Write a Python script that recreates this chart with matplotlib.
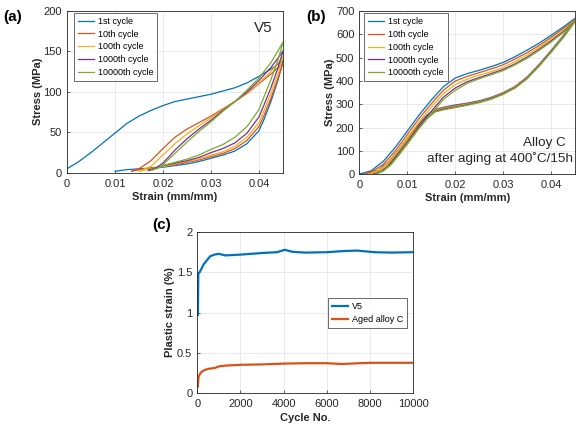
import numpy as np
import matplotlib
matplotlib.use("Agg")
import matplotlib.pyplot as plt
from matplotlib.ticker import FormatStrFormatter


# -----------------------------
# DATA
# -----------------------------

cycle_labels = ["1st cycle", "10th cycle", "100th cycle", "1000th cycle", "10000th cycle"]
cores = ["#0072BD", "#D95319", "#EDB120", "#7E2F8E", "#77AC30"]

# (a) V5 - loading branches (strain, stress)
v5_load_x = [
    [0, 0.0025, 0.005, 0.0075, 0.01, 0.0125, 0.015, 0.0175, 0.02, 0.0225, 0.025, 0.0275, 0.03, 0.0325, 0.035, 0.0375, 0.04, 0.0425, 0.045],
    [0.0135, 0.015, 0.0175, 0.02, 0.0225, 0.025, 0.0275, 0.03, 0.0325, 0.035, 0.0375, 0.04, 0.0425, 0.045],
    [0.015, 0.0175, 0.02, 0.0225, 0.025, 0.0275, 0.03, 0.0325, 0.035, 0.0375, 0.04, 0.0425, 0.045],
    [0.017, 0.0185, 0.02, 0.0225, 0.025, 0.0275, 0.03, 0.0325, 0.035, 0.0375, 0.04, 0.0425, 0.045],
    [0.0175, 0.019, 0.02, 0.0225, 0.025, 0.0275, 0.03, 0.0325, 0.035, 0.0375, 0.04, 0.0425, 0.045],
]
v5_load_y = [
    [5, 14, 25, 37, 49, 61, 70, 77, 83, 88, 91, 94, 97, 101, 105, 111, 119, 128, 138],
    [2, 5, 15, 30, 44, 54, 62, 70, 79, 88, 98, 110, 122, 135],
    [2, 8, 22, 36, 48, 58, 68, 78, 88, 99, 111, 125, 143],
    [3, 6, 12, 28, 42, 54, 65, 77, 88, 100, 114, 130, 150],
    [3, 6, 10, 24, 38, 51, 63, 76, 88, 102, 117, 136, 161],
]
# (a) V5 - unloading branches
v5_unl_x = [
    [0.045, 0.044, 0.0425, 0.041, 0.04, 0.0375, 0.035, 0.0325, 0.03, 0.0275, 0.025, 0.0225, 0.02, 0.0175, 0.015, 0.0125, 0.01],
    [0.045, 0.044, 0.0425, 0.041, 0.04, 0.0375, 0.035, 0.0325, 0.03, 0.0275, 0.025, 0.0225, 0.02, 0.0175, 0.015, 0.0135],
    [0.045, 0.044, 0.0425, 0.041, 0.04, 0.0375, 0.035, 0.0325, 0.03, 0.0275, 0.025, 0.0225, 0.02, 0.0175, 0.015],
    [0.045, 0.044, 0.0425, 0.041, 0.04, 0.0375, 0.035, 0.0325, 0.03, 0.0275, 0.025, 0.0225, 0.02, 0.0185, 0.017],
    [0.045, 0.044, 0.0425, 0.041, 0.04, 0.0375, 0.035, 0.0325, 0.03, 0.0275, 0.025, 0.0225, 0.02, 0.019, 0.0175],
]
v5_unl_y = [
    [138, 115, 88, 65, 52, 36, 27, 22, 18, 14, 11, 9, 7, 6, 5, 4, 2],
    [135, 117, 92, 70, 57, 40, 30, 24, 20, 16, 13, 10, 8, 6, 4, 2],
    [143, 123, 98, 76, 62, 44, 33, 26, 22, 17, 14, 11, 8, 5, 2],
    [150, 130, 105, 83, 69, 49, 37, 30, 25, 19, 15, 12, 9, 6, 3],
    [161, 140, 115, 93, 78, 57, 44, 35, 29, 22, 17, 13, 9, 6, 3],
]

# (b) Alloy C - loading branches
alc_load_x = [
    [0, 0.0025, 0.005, 0.0075, 0.01, 0.0125, 0.015, 0.0175, 0.02, 0.0225, 0.025, 0.0275, 0.03, 0.0325, 0.035, 0.0375, 0.04, 0.0425, 0.045],
    [0.001, 0.003, 0.005, 0.0075, 0.01, 0.0125, 0.015, 0.0175, 0.02, 0.0225, 0.025, 0.0275, 0.03, 0.0325, 0.035, 0.0375, 0.04, 0.0425, 0.045],
    [0.002, 0.0035, 0.005, 0.0075, 0.01, 0.0125, 0.015, 0.0175, 0.02, 0.0225, 0.025, 0.0275, 0.03, 0.0325, 0.035, 0.0375, 0.04, 0.0425, 0.045],
    [0.003, 0.0045, 0.006, 0.008, 0.01, 0.0125, 0.015, 0.0175, 0.02, 0.0225, 0.025, 0.0275, 0.03, 0.0325, 0.035, 0.0375, 0.04, 0.0425, 0.045],
    [0.0035, 0.005, 0.0065, 0.008, 0.01, 0.0125, 0.015, 0.0175, 0.02, 0.0225, 0.025, 0.0275, 0.03, 0.0325, 0.035, 0.0375, 0.04, 0.0425, 0.045],
]
alc_load_y = [
    [0, 15, 55, 115, 185, 255, 318, 375, 413, 432, 446, 462, 480, 505, 533, 563, 597, 632, 670],
    [0, 15, 42, 100, 170, 240, 302, 360, 400, 420, 436, 452, 470, 495, 522, 553, 588, 625, 665],
    [0, 12, 30, 85, 155, 225, 287, 345, 385, 408, 425, 440, 458, 483, 512, 545, 580, 618, 662],
    [0, 12, 35, 85, 138, 208, 270, 330, 370, 397, 415, 432, 450, 474, 503, 537, 573, 612, 658],
    [0, 14, 38, 75, 128, 198, 260, 320, 360, 390, 410, 427, 445, 470, 498, 532, 568, 608, 656],
]
# (b) Alloy C - unloading branches
alc_unl_x = [
    [0.045, 0.0425, 0.04, 0.0375, 0.035, 0.0325, 0.03, 0.0275, 0.025, 0.0225, 0.02, 0.0175, 0.0158, 0.014, 0.012, 0.01, 0.008, 0.006, 0.004, 0.002, 0],
    [0.045, 0.0425, 0.04, 0.0375, 0.035, 0.0325, 0.03, 0.0275, 0.025, 0.0225, 0.02, 0.0175, 0.0158, 0.014, 0.012, 0.01, 0.008, 0.006, 0.004, 0.002, 0.001],
    [0.045, 0.0425, 0.04, 0.0375, 0.035, 0.0325, 0.03, 0.0275, 0.025, 0.0225, 0.02, 0.0175, 0.0158, 0.014, 0.012, 0.01, 0.008, 0.006, 0.004, 0.002],
    [0.045, 0.0425, 0.04, 0.0375, 0.035, 0.0325, 0.03, 0.0275, 0.025, 0.0225, 0.02, 0.0175, 0.0158, 0.014, 0.012, 0.01, 0.008, 0.006, 0.0045, 0.003],
    [0.045, 0.0425, 0.04, 0.0375, 0.035, 0.0325, 0.03, 0.0275, 0.025, 0.0225, 0.02, 0.0175, 0.0158, 0.014, 0.012, 0.01, 0.008, 0.0065, 0.005, 0.0035],
]
alc_unl_y = [
    [670, 595, 532, 472, 418, 377, 350, 330, 315, 305, 297, 287, 278, 252, 205, 155, 100, 52, 18, 3, 0],
    [665, 592, 530, 470, 416, 376, 349, 328, 313, 303, 294, 285, 276, 248, 200, 150, 96, 48, 16, 3, 0],
    [662, 590, 528, 468, 414, 374, 347, 326, 311, 300, 291, 282, 273, 244, 195, 145, 90, 44, 12, 0],
    [658, 588, 526, 466, 412, 372, 345, 324, 309, 298, 288, 279, 270, 240, 190, 138, 84, 35, 10, 0],
    [656, 586, 524, 464, 410, 370, 343, 322, 307, 296, 286, 276, 267, 236, 186, 132, 78, 40, 14, 0],
]

# (c) plastic strain vs cycle number
ciclos_v5 = [30, 50, 150, 300, 450, 600, 800, 1000, 1300, 2000, 3000, 3700, 4050, 4400, 5000, 6000, 6800, 7400, 8200, 9000, 10000]
plastic_v5 = [0.97, 1.48, 1.52, 1.60, 1.65, 1.70, 1.72, 1.73, 1.71, 1.72, 1.74, 1.75, 1.78, 1.755, 1.745, 1.75, 1.765, 1.77, 1.75, 1.745, 1.75]
ciclos_c = [30, 60, 150, 300, 500, 800, 1000, 1300, 2000, 3000, 4000, 5000, 6000, 6700, 7500, 8000, 10000]
plastic_c = [0.08, 0.20, 0.25, 0.28, 0.30, 0.31, 0.33, 0.34, 0.35, 0.355, 0.365, 0.37, 0.37, 0.36, 0.37, 0.375, 0.375]


# -----------------------------
# GRAPH
# -----------------------------

plt.rcParams["font.family"] = ["Liberation Sans", "DejaVu Sans"]

fig = plt.figure(figsize=(5.87, 4.29), dpi=100, facecolor="white")

ax_a = fig.add_axes([0.114, 0.597, 0.368, 0.378])
ax_b = fig.add_axes([0.612, 0.594, 0.368, 0.380])
ax_c = fig.add_axes([0.336, 0.084, 0.368, 0.375])

leg_kw = dict(fontsize=6.5, frameon=True, fancybox=False, edgecolor="#262626",
              handlelength=1.75, borderpad=0.45, labelspacing=0.42,
              handletextpad=0.45, borderaxespad=0)


def estilo(ax):
    ax.grid(True, color="#e6e6e6", linewidth=0.6)
    ax.set_axisbelow(True)
    ax.tick_params(direction="in", length=2.5, labelsize=8, colors="#262626", width=0.5)
    ax.tick_params(axis="x", pad=4.5)
    for s in ax.spines.values():
        s.set_linewidth(0.6)
        s.set_color("#262626")


for i in range(5):
    ax_a.plot(v5_load_x[i], v5_load_y[i], color=cores[i], lw=0.9, label=cycle_labels[i])
    ax_a.plot(v5_unl_x[i], v5_unl_y[i], color=cores[i], lw=0.9)
    ax_b.plot(alc_load_x[i], alc_load_y[i], color=cores[i], lw=0.9, label=cycle_labels[i])
    ax_b.plot(alc_unl_x[i], alc_unl_y[i], color=cores[i], lw=0.9)

for ax, ymax, ystep, lx in [(ax_a, 200, 50, 0.032), (ax_b, 700, 100, 0.023)]:
    estilo(ax)
    ax.set_xlim(0, 0.045)
    ax.set_ylim(0, ymax)
    ax.set_xticks([0, 0.01, 0.02, 0.03, 0.04])
    ax.set_yticks(np.arange(0, ymax + 1, ystep))
    ax.xaxis.set_major_formatter(FormatStrFormatter("%g"))
    ax.set_xlabel("Strain (mm/mm)", fontsize=8, fontweight="bold", labelpad=2, color="#262626")
    ax.set_ylabel("Stress (MPa)", fontsize=8, fontweight="bold", labelpad=0.5, color="#262626")
    ax.legend(loc="upper left", bbox_to_anchor=(lx, 0.988), **leg_kw).get_frame().set_linewidth(0.6)

ax_a.text(0.95, 0.895, "V5", transform=ax_a.transAxes, ha="right", va="center", fontsize=11, color="#262626")
ax_b.text(0.955, 0.19, "Alloy C", transform=ax_b.transAxes, ha="right", va="center", fontsize=9.7, color="#262626")
ax_b.text(0.99, 0.098, "after aging at 400˚C/15h", transform=ax_b.transAxes, ha="right", va="center", fontsize=9.7, color="#262626")

estilo(ax_c)
ax_c.plot(ciclos_v5, plastic_v5, color=cores[0], lw=1.6, label="V5")
ax_c.plot(ciclos_c, plastic_c, color=cores[1], lw=1.6, label="Aged alloy C")
ax_c.set_xlim(0, 10000)
ax_c.set_ylim(0, 2)
ax_c.set_xticks(np.arange(0, 10001, 2000))
ax_c.set_yticks([0, 0.5, 1, 1.5, 2])
ax_c.yaxis.set_major_formatter(FormatStrFormatter("%g"))
ax_c.set_xlabel("Cycle No.", fontsize=8, fontweight="bold", labelpad=2.5, color="#262626")
ax_c.set_ylabel("Plastic strain (%)", fontsize=8, fontweight="bold", labelpad=1.5, color="#262626")
ax_c.legend(loc="upper right", bbox_to_anchor=(0.972, 0.59), **leg_kw).get_frame().set_linewidth(0.6)

fig.text(0.005, 0.96, "(a)", fontsize=11, fontweight="bold", va="center")
fig.text(0.521, 0.96, "(b)", fontsize=11, fontweight="bold", va="center")
fig.text(0.26, 0.475, "(c)", fontsize=11, fontweight="bold", va="center")

plt.savefig("out.png", dpi=100, facecolor="white")
